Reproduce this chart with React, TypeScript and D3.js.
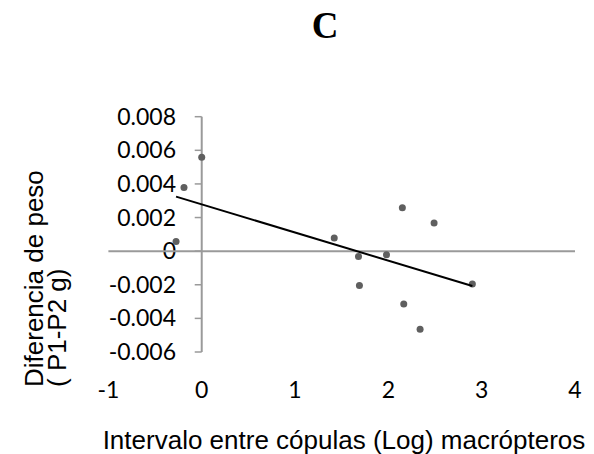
import React from "react";
import * as d3 from "d3";

const W = 594;
const H = 454;

const xValues = [2.15, 2.49, 1.42, 1.68, 1.98, 1.69, 2.9, 2.165, 2.34, 0, -0.19, -0.275];
const yValues = [0.00258, 0.00168, 0.00079, -0.00032, -0.00022, -0.00204, -0.00195, -0.00315, -0.00464, 0.00558, 0.00379, 0.00058];
const xTicks = [-1, 0, 1, 2, 3, 4];
const yTicks = [0.008, 0.006, 0.004, 0.002, 0, -0.002, -0.004, -0.006];
const yTickLabels = ["0.008", "0.006", "0.004", "0.002", "0", "-0.002", "-0.004", "-0.006"];
const title = "C";
const xTitle = "Intervalo entre cópulas (Log) macrópteros";
const yTitleLines = ["Diferencia de peso", "( P1-P2 g)"];

export default function App() {
  const x = d3.scaleLinear().domain([-1, 4]).range([108.4, 575]);
  const y = d3.scaleLinear().domain([-0.006, 0.008]).range([352, 116.7]);

  const pts = xValues.map((v, i) => [v, yValues[i]] as [number, number]);
  const mx = d3.mean(xValues) as number;
  const my = d3.mean(yValues) as number;
  let sxy = 0, sxx = 0;
  pts.forEach(([a, b]) => { sxy += (a - mx) * (b - my); sxx += (a - mx) * (a - mx); });
  const slope = sxy / sxx;
  const icpt = my - slope * mx;
  const [xmin, xmax] = d3.extent(xValues) as [number, number];
  const line = d3.line<[number, number]>().x(d => x(d[0])).y(d => y(d[1]));
  const trend: [number, number][] = [[xmin, icpt + slope * xmin], [xmax, icpt + slope * xmax]];

  const axisColor = "#9a9a9a";
  const tickFont = "Lato, 'Open Sans', sans-serif";
  const titleFont = "'Liberation Sans', Arial, sans-serif";

  return (
    <svg width={W} height={H} style={{ position: "absolute", left: 0, top: 0, background: "#fff" }}>
      <rect width={W} height={H} fill="#fff" />
      <text x={325} y={38} textAnchor="middle" fontFamily="'Liberation Serif', serif" fontWeight="bold" fontSize={37}>{title}</text>

      {/* y axis */}
      <line x1={x(0)} x2={x(0)} y1={y(0.008)} y2={y(-0.006)} stroke={axisColor} strokeWidth={2} />
      {yTicks.map((t, i) => (
        <g key={i}>
          <line x1={x(0) - 7} x2={x(0)} y1={y(t)} y2={y(t)} stroke={axisColor} strokeWidth={1.5} />
          <text x={176} y={y(t)} dy="0.35em" textAnchor="end" fontFamily={tickFont} fontSize={23} fill="#000">{yTickLabels[i]}</text>
        </g>
      ))}
      {/* x axis */}
      <line x1={x(-1)} x2={x(4)} y1={y(0)} y2={y(0)} stroke={axisColor} strokeWidth={2} />
      {xTicks.map((t, i) => (
        <text key={i} x={x(t)} y={390} dy="0.35em" textAnchor="middle" fontFamily={tickFont} fontSize={23} fill="#000">{String(t)}</text>
      ))}

      {/* points */}
      {pts.map((p, i) => (
        <circle key={i} cx={x(p[0])} cy={y(p[1])} r={3.5} fill="#5f5f5f" />
      ))}
      {/* trendline */}
      <path d={line(trend) || ""} stroke="#000" strokeWidth={2} fill="none" />

      {/* axis titles */}
      <text x={344} y={449} textAnchor="middle" fontFamily={titleFont} fontSize={26} fill="#000">{xTitle}</text>
      {yTitleLines.map((s, i) => (
        <text key={i} transform={`translate(${43 + i * 23},387) rotate(-90)`} textAnchor="start" fontFamily={titleFont} fontSize={26} fill="#000">{s}</text>
      ))}
    </svg>
  );
}
